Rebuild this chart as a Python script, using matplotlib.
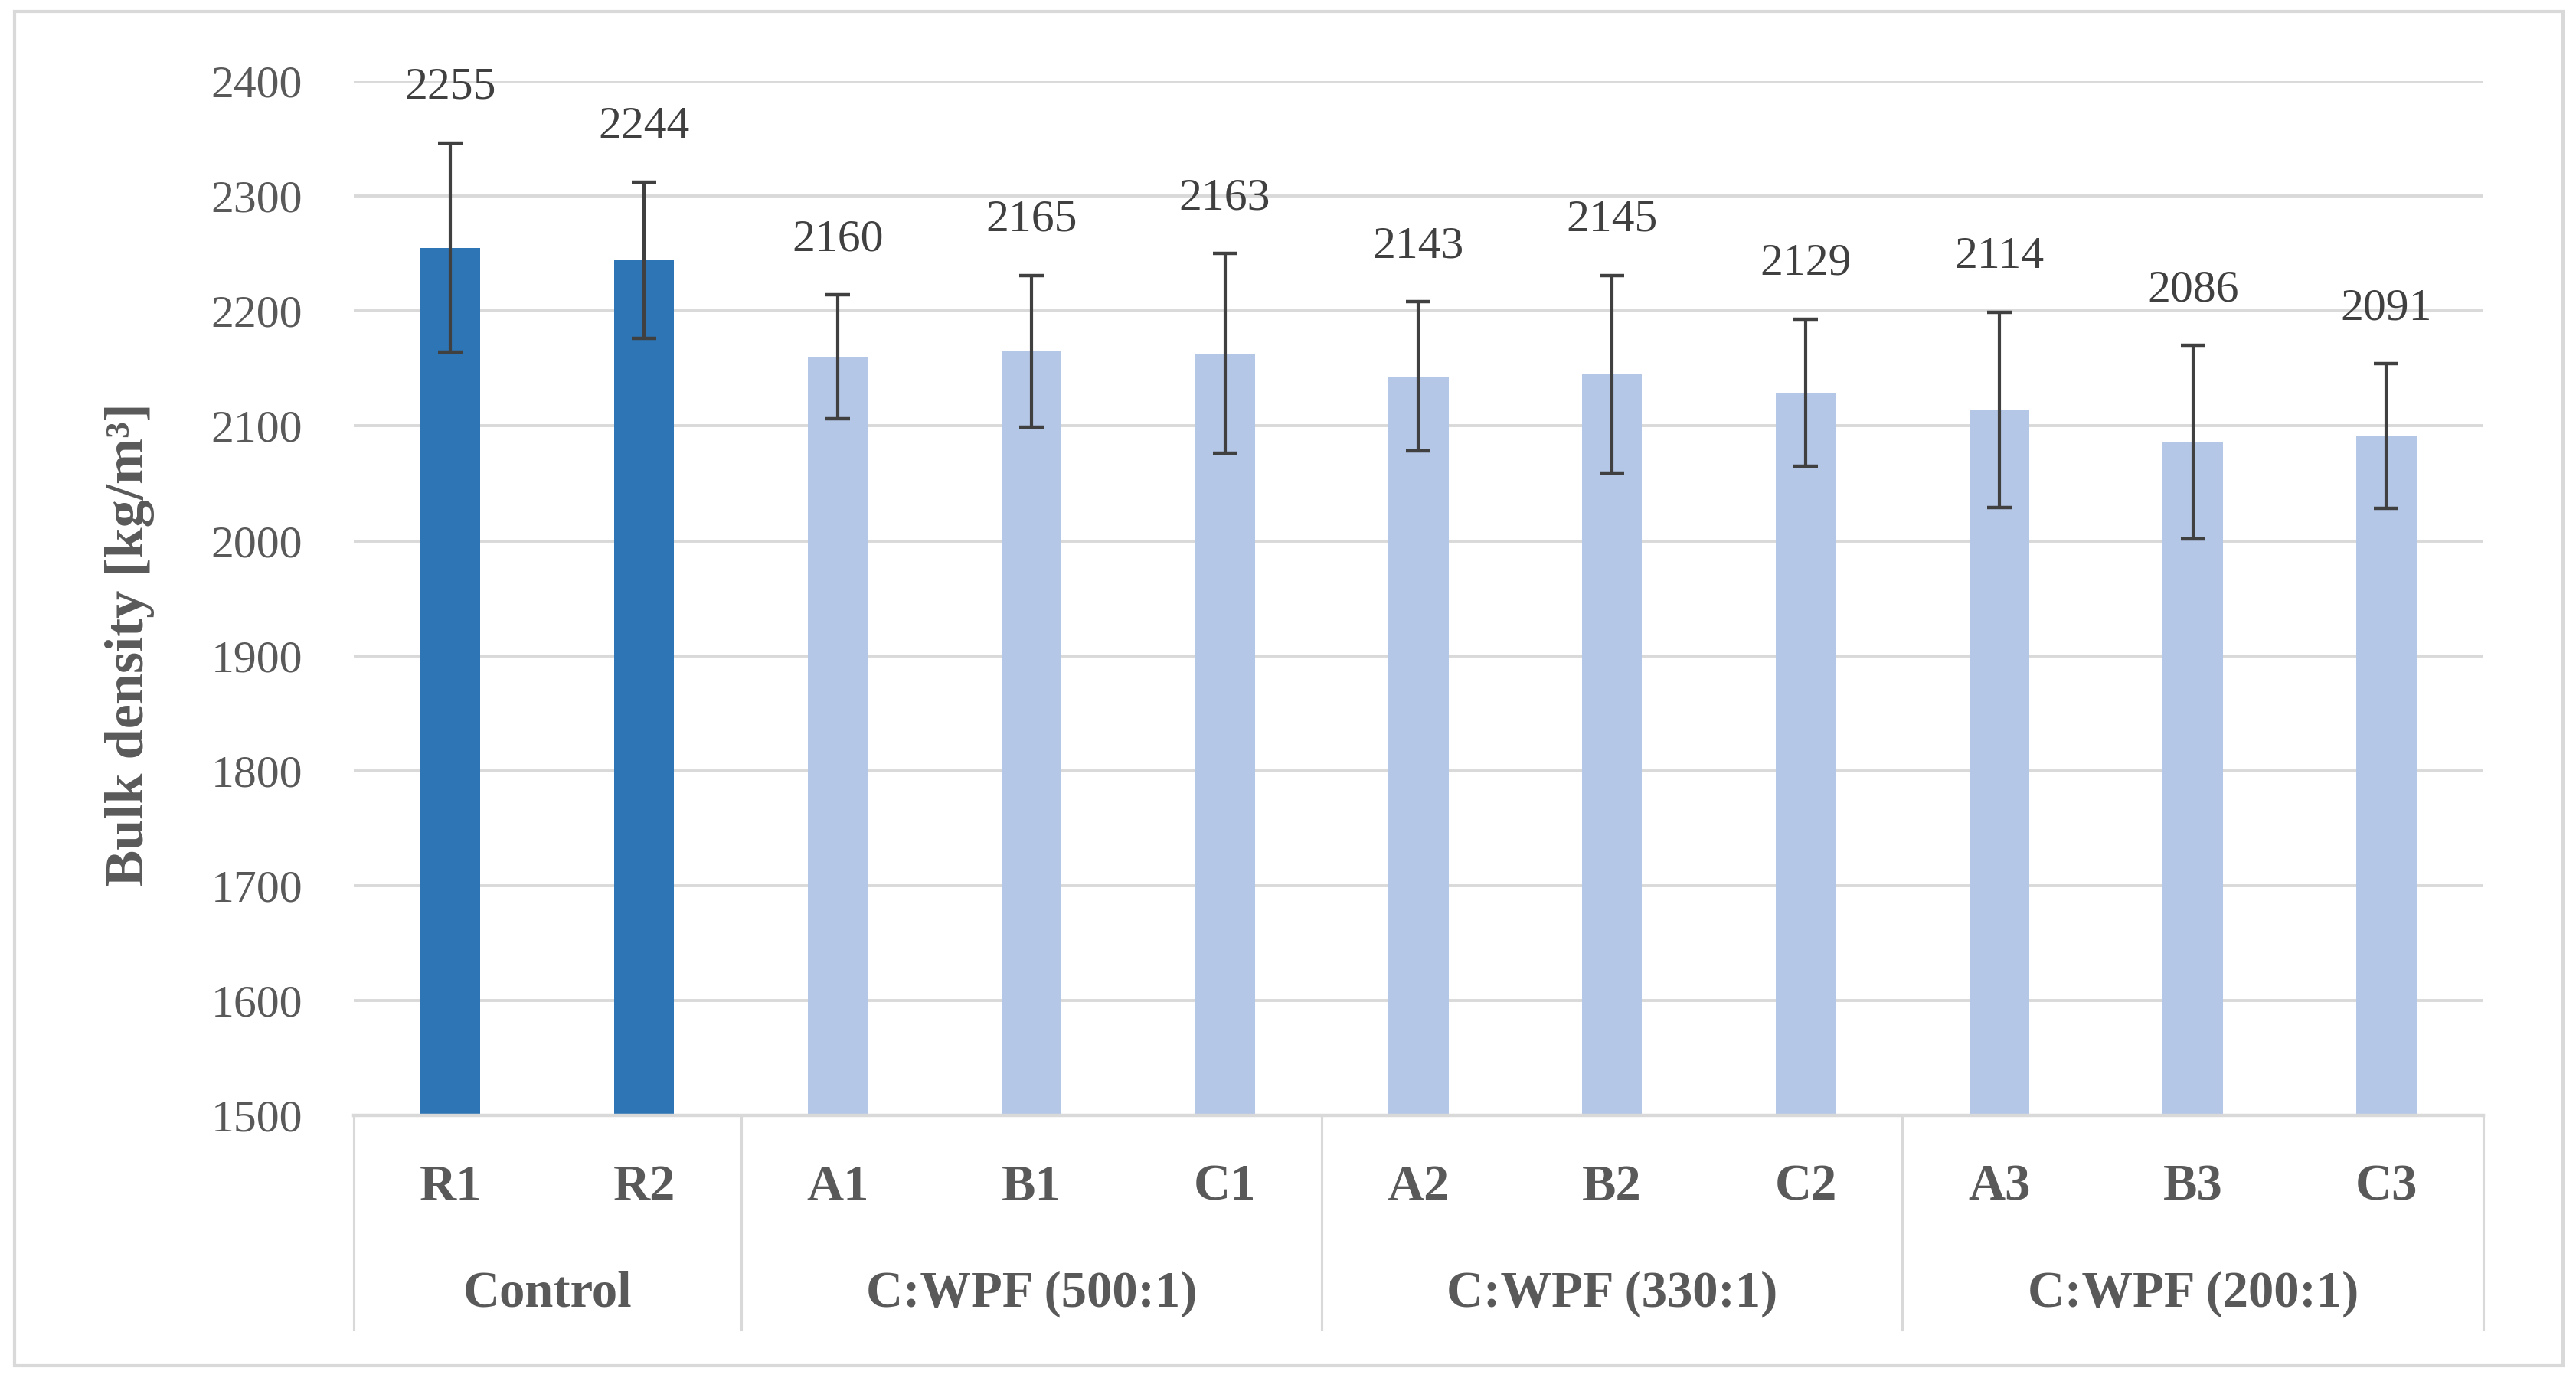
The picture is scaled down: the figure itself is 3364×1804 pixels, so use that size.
import numpy as np
import matplotlib
matplotlib.use("Agg")
import matplotlib.pyplot as plt
from matplotlib.patches import Rectangle

# data
samples = ["R1", "R2", "A1", "B1", "C1", "A2", "B2", "C2", "A3", "B3", "C3"]
density = [2255, 2244, 2160, 2165, 2163, 2143, 2145, 2129, 2114, 2086, 2091]
errors = [91, 68, 54, 66, 87, 65, 86, 64, 85, 84, 63]
groups = ["Control", "C:WPF (500:1)", "C:WPF (330:1)", "C:WPF (200:1)"]
group_sizes = [2, 3, 3, 3]
yticks = [1500, 1600, 1700, 1800, 1900, 2000, 2100, 2200, 2300, 2400]

DARK = "#2E75B6"
LIGHT = "#B4C7E7"
GRID = "#D9D9D9"
TEXT = "#595959"
VAL = "#404040"

plt.rcParams["font.family"] = ["Liberation Serif", "DejaVu Serif"]

fig = plt.figure(figsize=(33.64, 18.04), dpi=100)
ax = fig.add_axes([0.1373, 0.1923, 0.8267, 0.7489])

x = np.arange(len(samples))
colors = [DARK] * group_sizes[0] + [LIGHT] * (len(samples) - group_sizes[0])

ax.bar(x, density, width=0.31, color=colors, zorder=2)
ax.errorbar(x, density, yerr=errors, fmt="none", ecolor="#404040",
            elinewidth=3, capsize=11.5, capthick=3.2, zorder=3)

# value labels above error bars
for xi, v, e in zip(x, density, errors):
    ax.annotate(f"{v}", (xi, v + e), xytext=(0, 52), textcoords="offset points",
                ha="center", va="center", fontsize=43, color=VAL,
                annotation_clip=False)

ax.set_xlim(-0.5, len(samples) - 0.5)
ax.set_ylim(1500, 2400)
ax.set_yticks(yticks)
ax.tick_params(axis="y", length=0, pad=48, labelsize=43, labelcolor=TEXT)
ax.set_xticks([])
ax.yaxis.grid(True, color=GRID, linewidth=2.8)
ax.set_axisbelow(True)
for s in ["left", "right", "top"]:
    ax.spines[s].set_visible(False)
ax.spines["bottom"].set_color(GRID)
ax.spines["bottom"].set_linewidth(3.2)

# two-level category axis
trans = ax.get_xaxis_transform()
for xi, name in zip(x, samples):
    ax.text(xi, -0.0696, name, transform=trans, ha="center", va="center",
            fontsize=48, fontweight="bold", color=TEXT)

bounds = np.concatenate([[0], np.cumsum(group_sizes)]) - 0.5
for b in bounds:
    ax.plot([b, b], [0, -0.207], transform=trans, color=GRID, linewidth=2.2,
            clip_on=False)
for i, g in enumerate(groups):
    mid = (bounds[i] + bounds[i + 1]) / 2
    ax.text(mid, -0.1725, g, transform=trans, ha="center", va="center",
            fontsize=48, fontweight="bold", color=TEXT)

fig.text(170 / 3364, 1 - 842 / 1804, "Bulk density [kg/m³]", rotation=90,
         ha="center", va="center", fontsize=52, fontweight="bold", color=TEXT)

# outer chart border
fig.patches.append(Rectangle((19 / 3364, 1 - 1784 / 1804), (3347 - 19) / 3364,
                             (1784 - 15) / 1804, transform=fig.transFigure,
                             fill=False, edgecolor=GRID, linewidth=3))

fig.savefig("out.png", dpi=100, facecolor="white")
